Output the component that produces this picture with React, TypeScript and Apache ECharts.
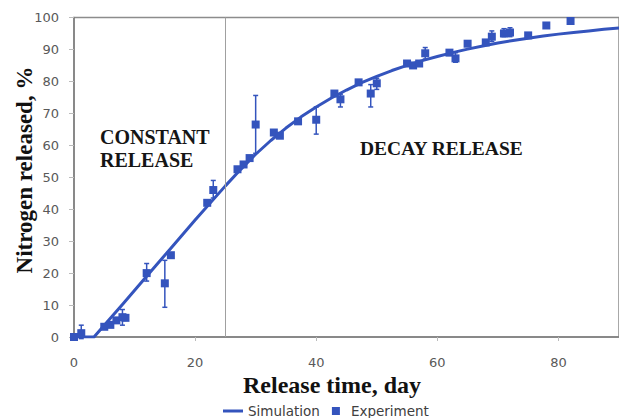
import React, { useEffect, useRef } from "react";
import * as echarts from "echarts";

// Simulation curve (day, % released)
const simDays = [0, 3.3, 8, 12, 16, 20, 25, 27.5, 30, 32.5, 35, 37.5, 40, 42.5, 45, 47.5, 50, 52.5, 55, 57.5, 60, 62.5, 65, 67.5, 70, 72.5, 75, 77.5, 80, 82.5, 85, 87.5, 90];
const simVals = [0, 0, 10.2, 19, 27.8, 36.6, 47.3, 52.4, 57.2, 61.5, 65.4, 68.9, 72, 74.8, 77.3, 79.6, 81.6, 83.4, 85, 86.5, 87.8, 89, 90.1, 91.1, 92, 92.8, 93.5, 94.2, 94.8, 95.3, 95.8, 96.3, 96.7];

// Experiment points
const expDays = [0, 1.2, 5, 6, 7, 8, 8.5, 12, 15, 16, 22, 23, 27, 28, 29, 30, 33, 34, 37, 40, 43, 44, 47, 49, 50, 55, 56, 57, 58, 62, 63, 65, 68, 69, 71, 72, 75, 78, 82];
const expVals = [0, 1.2, 3.2, 3.8, 5.2, 6.2, 6, 20, 16.8, 25.6, 42, 46, 52.5, 54, 56, 66.5, 64, 63, 67.5, 68, 76.2, 74.4, 79.7, 76.2, 79.4, 85.6, 85, 85.6, 88.8, 89, 87.2, 91.8, 92.2, 94, 95, 95.3, 94.4, 97.5, 98.9];

// Error bars (day, low, high)
const errDays = [1.2, 8, 12, 15, 23, 30, 40, 44, 49, 50, 58, 63, 69, 71, 72];
const errLow = [-0.5, 3.7, 17.5, 9.3, 43.5, 57.5, 63.5, 72, 72, 77.5, 87, 86, 92.5, 94, 94];
const errHigh = [3.7, 8.6, 23, 24, 49, 75.6, 72, 76, 79, 81, 90.6, 89, 95.8, 96.5, 96.8];

const xTicks = [0, 20, 40, 60, 80];
const boundaryDay = 25;

const BLUE = "#3454bd";

export default function App() {
  const ref = useRef<HTMLDivElement>(null);
  useEffect(() => {
    if (!ref.current) return;
    const chart = echarts.init(ref.current, undefined, { renderer: "svg" });
    const option: any = {
      animation: false,
      grid: {
        left: 74,
        top: 17.5,
        width: 551,
        height: 319.5,
        show: true,
        borderColor: "#8c8c8c",
        borderWidth: 1.5,
      },
      xAxis: {
        type: "value",
        min: 0,
        max: 90,
        interval: 20,
        axisLine: { show: true, lineStyle: { color: "#7f7f7f", width: 1.5 } },
        axisTick: { show: true, length: 4, lineStyle: { color: "#bbbbbb" } },
        splitLine: { show: false },
        axisLabel: {
          margin: 19,
          fontFamily: "DejaVu Sans",
          fontSize: 13,
          color: "#595959",
          showMaxLabel: false,
          formatter: (v: number) => (xTicks.includes(v) ? String(v) : ""),
        },
      },
      yAxis: {
        type: "value",
        min: 0,
        max: 100,
        interval: 10,
        axisLine: { show: true, lineStyle: { color: "#7f7f7f", width: 1.5 } },
        axisTick: { show: true, length: 5, lineStyle: { color: "#bbbbbb" } },
        splitLine: { show: false },
        axisLabel: {
          margin: 15,
          fontFamily: "DejaVu Sans",
          fontSize: 13,
          color: "#595959",
        },
      },
      legend: {
        left: 218,
        top: 399,
        itemWidth: 20,
        itemHeight: 8,
        itemGap: 12,
        textStyle: { fontFamily: "DejaVu Sans", fontSize: 13.5, color: "#404040" },
        data: [
          { name: "Simulation", icon: "path://M0,0H20V3H0Z" },
          { name: "Experiment", icon: "path://M0,0H10V10H0Z" },
        ],
      },
      series: [
        {
          name: "Simulation",
          type: "line",
          data: simDays.map((d, i) => [d, simVals[i]]),
          smooth: false,
          showSymbol: false,
          symbol: "none",
          lineStyle: { color: BLUE, width: 3, join: "round" },
          itemStyle: { color: BLUE },
          z: 3,
          markLine: {
            silent: true,
            symbol: "none",
            label: { show: false },
            lineStyle: { color: "#a0a0a0", width: 1, type: "solid" },
            data: [{ xAxis: boundaryDay }],
          },
        },
        {
          name: "errors",
          type: "custom",
          data: errDays.map((d, i) => [d, errLow[i], errHigh[i]]),
          z: 4,
          renderItem: (params: any, api: any) => {
            const x = api.value(0);
            const lo = api.coord([x, api.value(1)]);
            const hi = api.coord([x, api.value(2)]);
            const cap = 2.5;
            const st = { stroke: BLUE, lineWidth: 1.5 };
            return {
              type: "group",
              children: [
                { type: "line", shape: { x1: lo[0], y1: lo[1], x2: hi[0], y2: hi[1] }, style: st },
                { type: "line", shape: { x1: lo[0] - cap, y1: lo[1], x2: lo[0] + cap, y2: lo[1] }, style: st },
                { type: "line", shape: { x1: hi[0] - cap, y1: hi[1], x2: hi[0] + cap, y2: hi[1] }, style: st },
              ],
            };
          },
        },
        {
          name: "Experiment",
          type: "scatter",
          symbol: "rect",
          symbolSize: 8,
          data: expDays.map((d, i) => [d, expVals[i]]),
          itemStyle: { color: BLUE, opacity: 1 },
          z: 5,
        },
      ],
      graphic: [
        {
          type: "text",
          x: 100,
          y: 137,
          style: {
            text: "CONSTANT",
            font: "bold 20px 'Liberation Serif'",
            fill: "#151515",
            verticalAlign: "middle",
          },
        },
        {
          type: "text",
          x: 100,
          y: 160,
          style: {
            text: "RELEASE",
            font: "bold 20px 'Liberation Serif'",
            fill: "#151515",
            verticalAlign: "middle",
          },
        },
        {
          type: "text",
          x: 360,
          y: 148,
          style: {
            text: "DECAY RELEASE",
            font: "bold 19.5px 'Liberation Serif'",
            fill: "#151515",
            verticalAlign: "middle",
          },
        },
        {
          type: "text",
          x: 332,
          y: 385,
          style: {
            text: "Release time, day",
            font: "bold 24px 'Liberation Serif'",
            fill: "#111111",
            align: "center",
            verticalAlign: "middle",
          },
        },
        {
          type: "text",
          x: 24,
          y: 170,
          rotation: Math.PI / 2,
          style: {
            text: "Nitrogen released, %",
            font: "bold 23px 'Liberation Serif'",
            fill: "#111111",
            align: "center",
            verticalAlign: "middle",
          },
        },
      ],
    };
    chart.setOption(option);
    return () => chart.dispose();
  }, []);
  return (
    <div
      ref={ref}
      style={{ position: "fixed", left: 0, top: 0, width: 619, height: 418, background: "#fff" }}
    />
  );
}
